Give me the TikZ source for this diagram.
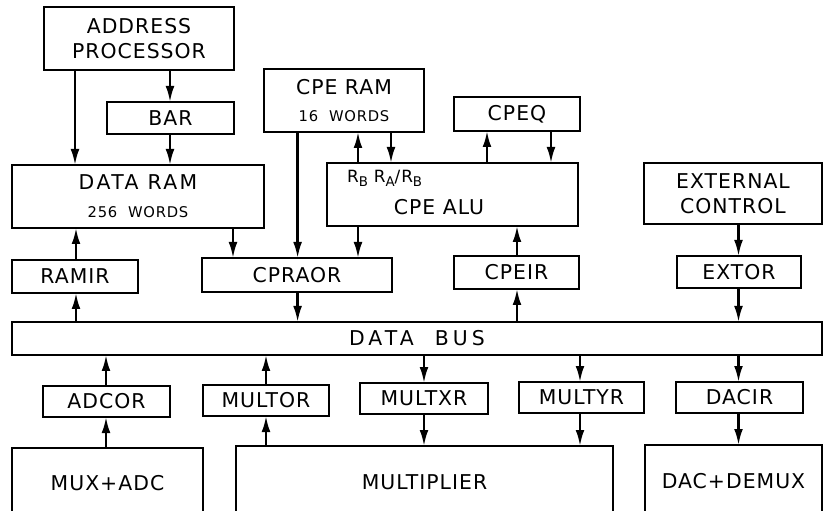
\documentclass[tikz,border=0pt]{standalone}
\usepackage{fontspec}
\setmainfont{DejaVu Sans}[LetterSpace=5]
\usetikzlibrary{arrows.meta}
\newcommand{\smalltxt}{\fontsize{10.5}{12}\selectfont}
\newcommand{\regsub}[1]{\raisebox{-0.45ex}{\fontsize{9.5}{10}\selectfont #1}}

\begin{document}
\begin{tikzpicture}[>={Latex[length=4mm,width=2.2mm]},line width=1.6pt,
  every node/.style={font=\fontsize{14.5}{18}\selectfont},
  blk/.style={draw,inner sep=0pt,outer sep=0pt,align=center}]
\useasboundingbox (0,0) rectangle (20.6,12.75);
% top row
\node[blk,minimum width=4.75cm,minimum height=1.575cm] (addr) at (3.475,11.7875) {ADDRESS\\PROCESSOR};
\node[blk,minimum width=3.175cm,minimum height=0.8cm] (bar) at (4.2625,9.8) {BAR};
\node[blk,minimum width=4cm,minimum height=1.575cm] (cperam) at (8.6,10.2375) {CPE RAM\\[1pt]{\smalltxt 16\ \ WORDS}};
\node[blk,minimum width=3.15cm,minimum height=0.85cm] (cpeq) at (12.925,9.9) {CPEQ};
% middle row
\node[blk,minimum width=6.3cm,minimum height=1.575cm] (dram) at (3.45,7.8375) {{\addfontfeature{LetterSpace=12}DATA RAM}\\[2pt]{\smalltxt 256\ \ WORDS}};
\node[blk,minimum width=6.275cm,minimum height=1.575cm] (alu) at (11.3125,7.8875) {};
\node (alutxt) at (10.975,7.575) {CPE ALU};
\node (rb) at (8.94,8.3) {\fontsize{12}{13}\selectfont R\regsub{B}};
\node (rarb) at (9.95,8.3) {\fontsize{12}{13}\selectfont R\regsub{A}/R\regsub{B}};
\node[blk,minimum width=4.45cm,minimum height=1.525cm] (ext) at (18.325,7.9125) {EXTERNAL\\CONTROL};
% registers
\node[blk,minimum width=3.15cm,minimum height=0.825cm] (ramir) at (1.875,5.8375) {RAMIR};
\node[blk,minimum width=4.75cm,minimum height=0.85cm] (cpraor) at (7.425,5.875) {CPRAOR};
\node[blk,minimum width=3.125cm,minimum height=0.825cm] (cpeir) at (12.9125,5.9375) {CPEIR};
\node[blk,minimum width=3.1cm,minimum height=0.8cm] (extor) at (18.475,5.95) {EXTOR};
% bus
\node[blk,minimum width=20.25cm,minimum height=0.825cm] (bus) at (10.425,4.2875) {\addfontfeature{LetterSpace=20}DATA\ \ BUS};
% lower registers
\node[blk,minimum width=3.175cm,minimum height=0.775cm] (adcor) at (2.6625,2.7125) {ADCOR};
\node[blk,minimum width=3.15cm,minimum height=0.775cm] (multor) at (6.65,2.7375) {MULTOR};
\node[blk,minimum width=3.2cm,minimum height=0.775cm] (multxr) at (10.6,2.7875) {MULTXR};
\node[blk,minimum width=3.125cm,minimum height=0.775cm] (multyr) at (14.5375,2.8125) {MULTYR};
\node[blk,minimum width=3.175cm,minimum height=0.775cm] (dacir) at (18.4875,2.8125) {DACIR};
% bottom row
\node[blk,minimum width=4.775cm,minimum height=1.75cm] (mux) at (2.6875,0.675) {MUX+ADC};
\node[blk,minimum width=9.425cm,minimum height=1.8cm] (mult) at (10.6125,0.7) {MULTIPLIER};
\node[blk,minimum width=4.425cm,minimum height=1.825cm] (dac) at (18.3375,0.7125) {DAC+DEMUX};
% arrows
\draw[->] (addr.south -| 1.875,0) -- (dram.north -| 1.875,0);
\draw[->] (addr.south -| 4.25,0) -- (bar.north -| 4.25,0);
\draw[->] (bar.south -| 4.25,0) -- (dram.north -| 4.25,0);
\draw[->] (dram.south -| 5.825,0) -- (cpraor.north -| 5.825,0);
\draw[->] (cperam.south -| 7.44,0) -- (cpraor.north -| 7.44,0);
\draw[->] (alu.north -| 8.95,0) -- (cperam.south -| 8.95,0);
\draw[->] (cperam.south -| 9.775,0) -- (alu.north -| 9.775,0);
\draw[->] (alu.south -| 8.95,0) -- (cpraor.north -| 8.95,0);
\draw[->] (alu.north -| 12.175,0) -- (cpeq.south -| 12.175,0);
\draw[->] (cpeq.south -| 13.775,0) -- (alu.north -| 13.775,0);
\draw[->] (cpeir.north -| 12.925,0) -- (alu.south -| 12.925,0);
\draw[->] (ext.south -| 18.4625,0) -- (extor.north -| 18.4625,0);
\draw[->] (ramir.north -| 1.9,0) -- (dram.south -| 1.9,0);
\draw[->] (bus.north -| 1.9,0) -- (ramir.south -| 1.9,0);
\draw[->] (cpraor.south -| 7.44,0) -- (bus.north -| 7.44,0);
\draw[->] (bus.north -| 12.925,0) -- (cpeir.south -| 12.925,0);
\draw[->] (extor.south -| 18.4625,0) -- (bus.north -| 18.4625,0);
\draw[->] (adcor.north -| 2.65,0) -- (bus.south -| 2.65,0);
\draw[->] (mux.north -| 2.65,0) -- (adcor.south -| 2.65,0);
\draw[->] (multor.north -| 6.65,0) -- (bus.south -| 6.65,0);
\draw[->] (mult.north -| 6.65,0) -- (multor.south -| 6.65,0);
\draw[->] (bus.south -| 10.6,0) -- (multxr.north -| 10.6,0);
\draw[->] (multxr.south -| 10.6,0) -- (mult.north -| 10.6,0);
\draw[->] (bus.south -| 14.5,0) -- (multyr.north -| 14.5,0);
\draw[->] (multyr.south -| 14.5,0) -- (mult.north -| 14.5,0);
\draw[->] (bus.south -| 18.4625,0) -- (dacir.north -| 18.4625,0);
\draw[->] (dacir.south -| 18.4625,0) -- (dac.north -| 18.4625,0);
\end{tikzpicture}
\end{document}
